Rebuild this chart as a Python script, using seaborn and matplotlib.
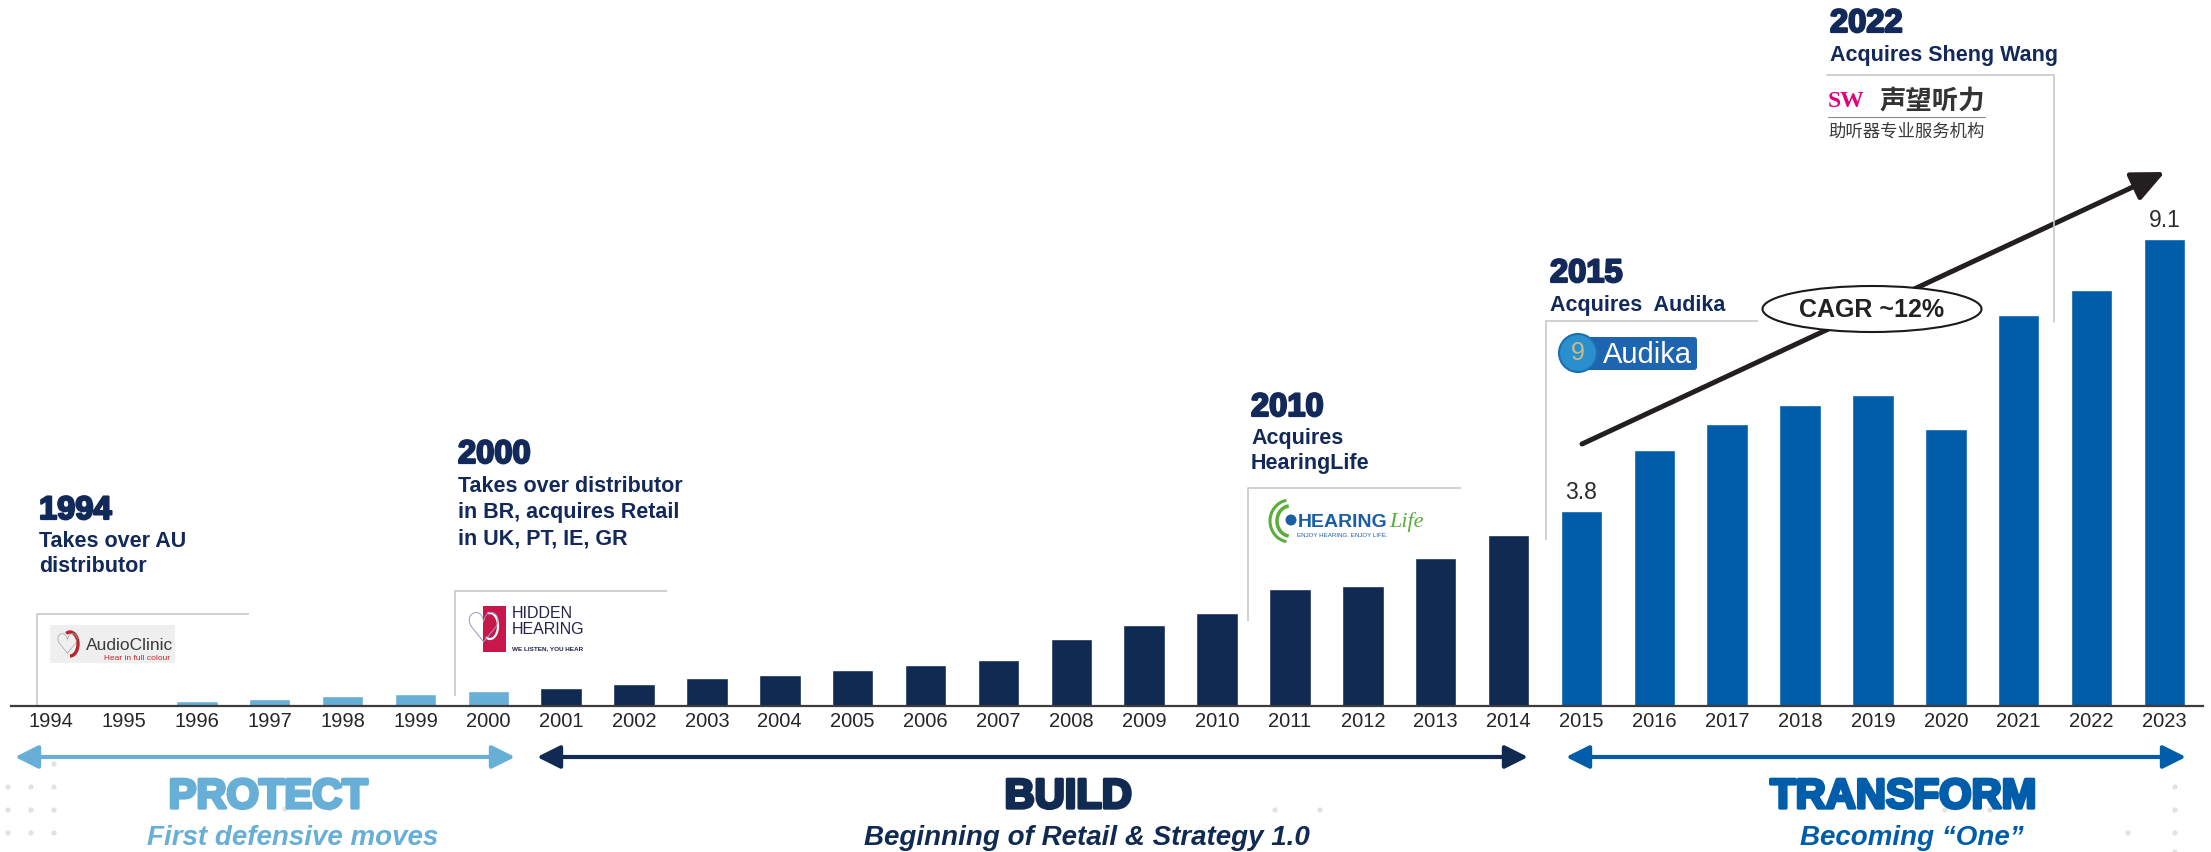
import matplotlib
matplotlib.use("Agg")
import numpy as np
import pandas as pd
import matplotlib.pyplot as plt
import seaborn as sns
from matplotlib.patches import Ellipse, FancyArrowPatch, Rectangle, FancyBboxPatch, Circle, Arc
from matplotlib import patheffects as pe

# ---------------------------------------------------------------- data
years = [str(y) for y in range(1994, 2024)]
revenue = [0.02, 0.04, 0.10, 0.14, 0.19, 0.23, 0.29,
           0.36, 0.42, 0.55, 0.60, 0.70, 0.79, 0.90, 1.30, 1.58, 1.81,
           2.28, 2.34, 2.88, 3.34,
           3.8, 4.99, 5.49, 5.86, 6.06, 5.40, 7.62, 8.10, 9.1]
phase = ["PROTECT"] * 7 + ["BUILD"] * 14 + ["TRANSFORM"] * 9
labelled_years = ["2015", "2023"]

phase_names = ["PROTECT", "BUILD", "TRANSFORM"]
phase_subtitles = ["First defensive moves", "Beginning of Retail & Strategy 1.0",
                   "Becoming \u201cOne\u201d"]
phase_colors = {"PROTECT": "#68AFD7", "BUILD": "#112A51", "TRANSFORM": "#005DA9"}

milestone_years = ["1994", "2000", "2010", "2015", "2022"]
milestone_texts = [["Takes over AU", "distributor"],
                   ["Takes over distributor", "in BR, acquires Retail", "in UK, PT, IE, GR"],
                   ["Acquires", "HearingLife"],
                   ["Acquires  Audika"],
                   ["Acquires Sheng Wang"]]
cagr_label = "CAGR ~12%"

df = pd.DataFrame({"year": years, "revenue": revenue, "phase": phase})

# ---------------------------------------------------------------- style
sns.set_theme(style="white")
plt.rcParams["font.family"] = ["Liberation Sans", "DejaVu Sans"]

W, H = 2211, 852
fig = plt.figure(figsize=(W / 100, H / 100), dpi=100)
fig.patch.set_facecolor("white")

# main bar axes: baseline at y=706 px, 72.9 px per year, 51.3 px per unit
base_px = 706
ax = fig.add_axes([11 / W, (H - base_px) / H, 2192 / W, base_px / H])
sns.barplot(data=df, x="year", y="revenue", hue="phase", order=years,
            palette=phase_colors, dodge=False, width=0.57, saturation=1,
            legend=False, ax=ax)
ax.set_xlim(-0.55, 29.53)
ax.set_ylim(0, base_px / 51.3)
ax.set_xlabel("")
ax.set_ylabel("")
ax.set_yticks([])
ax.tick_params(axis="x", length=0, pad=4, labelsize=14.5, labelcolor="#262626")
for s in ["top", "left", "right"]:
    ax.spines[s].set_visible(False)
ax.spines["bottom"].set_color("#3c3c3c")
ax.spines["bottom"].set_linewidth(1.6)
ax.patch.set_alpha(0)

for y in labelled_years:
    i = years.index(y)
    v = revenue[i]
    ax.annotate(f"{v:.1f}", xy=(i, v), xytext=(0, 8.5), textcoords="offset points",
                ha="center", va="baseline", fontsize=16.5, color="#2b2b2b")

# ---------------------------------------------------------------- overlay (pixel space)
ov = fig.add_axes([0, 0, 1, 1], zorder=-1)
ov.set_xlim(0, W)
ov.set_ylim(H, 0)
ov.axis("off")

ov2 = fig.add_axes([0, 0, 1, 1], zorder=5)
ov2.set_xlim(0, W)
ov2.set_ylim(H, 0)
ov2.axis("off")
ov2.patch.set_alpha(0)

# faint background dots
dot_pts = [(8, 787), (31, 787), (54, 787), (8, 810), (31, 810), (54, 810),
           (8, 833), (31, 833), (54, 833), (54, 764), (285, 809), (330, 809), (357, 833),
           (1275, 810), (1320, 810), (1945, 810), (1990, 810),
           (2175, 787), (2175, 810), (2175, 833), (2175, 852), (2128, 833)]
for x, y in dot_pts:
    ov.add_patch(Circle((x, y), 2.6, color="#e2e2e2", lw=0))

navy = "#12295A"
heavy = [pe.withStroke(linewidth=1.6, foreground=navy)]
grey_line = "#c8c8c8"

# milestone headings and descriptions
heads = [(39, 519, [547, 572]),
         (458, 463, [492, 518, 544]),
         (1251, 416, [444, 469]),
         (1550, 282, [311]),
         (1830, 32, [61])]
for (x, yb, lines), yr, txt in zip(heads, milestone_years, milestone_texts):
    ov2.text(x, yb, yr, fontsize=23.5, fontweight="bold", color=navy,
             va="baseline", ha="left", path_effects=heavy)
    for ly, t in zip(lines, txt):
        ov2.text(x, ly, t, fontsize=15.5, fontweight="bold", color=navy,
                 va="baseline", ha="left")

# logo frames (brackets)
brackets = [(37, 614, 705, 249), (455, 591, 696, 667), (1248, 488, 621, 1461),
            (1546, 321, 540, 1758)]
for x, yt, yb, xr in brackets:
    ov2.plot([x, x, xr], [yb, yt, yt], color=grey_line, lw=1.2, solid_capstyle="butt")
ov2.plot([1827, 2054, 2054], [75, 75, 322], color=grey_line, lw=1.2)

# --- AudioClinic logo
ov2.add_patch(Rectangle((50, 625), 125, 38, color="#eeefee", lw=0))
ov2.text(67, 646, "\u2661", fontsize=20, color="#a0a0a0", ha="center", va="center",
         family="DejaVu Sans")
ov2.add_patch(Arc((70, 644), 16, 24, theta1=-110, theta2=90, color="#b5262e", lw=2.4))
ov2.text(86, 650, "AudioClinic", fontsize=12.5, color="#3a3a3a", ha="left", va="baseline")
ov2.text(104, 660, "Hear in full colour", fontsize=6, color="#c1272d", ha="left", va="baseline")

# --- Hidden Hearing logo
ov2.text(483, 630, "\u2661", fontsize=30, color="#9a9cc9", ha="center", va="center",
         family="DejaVu Sans")
ov2.add_patch(Rectangle((483, 606), 23, 46, color="#c8174a", lw=0))
ov2.add_patch(Arc((490, 626), 16, 26, theta1=-100, theta2=110, color="white", lw=1.6))
ov2.text(512, 618, "HIDDEN", fontsize=11.5, color="#22244a", ha="left", va="baseline")
ov2.text(512, 634, "HEARING", fontsize=11.5, color="#22244a", ha="left", va="baseline")
ov2.text(512, 650, "WE LISTEN, YOU HEAR", fontsize=4.6, fontweight="bold", color="#22244a",
         ha="left", va="baseline")

# --- HearingLife logo
ov2.add_patch(Arc((1290, 521), 26, 30, theta1=95, theta2=265, color="#5bae3c", lw=2.6))
ov2.add_patch(Arc((1290, 521), 40, 42, theta1=100, theta2=260, color="#5bae3c", lw=2.2))
ov2.add_patch(Circle((1291, 520), 5.5, color="#1b5ea6", lw=0))
ov2.text(1298, 527, "HEARING", fontsize=14, fontweight="bold", color="#1b5ea6",
         ha="left", va="baseline")
ov2.text(1389, 527, "Life", fontsize=16, style="italic", color="#5aae3c",
         ha="left", va="baseline", family="Liberation Serif")
ov2.text(1297, 537, "ENJOY HEARING. ENJOY LIFE.", fontsize=4.4, color="#1b5ea6",
         ha="left", va="baseline")

# --- Audika logo
ov2.add_patch(FancyBboxPatch((1580, 337), 117, 33, boxstyle="round,pad=0,rounding_size=3",
                             color="#1f64ae", lw=0))
ov2.add_patch(Circle((1578, 353), 19, facecolor="#2a8fcd", edgecolor="#1a6fb3", lw=1.5))
ov2.text(1578, 353, "9", fontsize=18, color="#c9b98a", ha="center", va="center")
ov2.text(1603, 363, "Audika", fontsize=21, color="white", ha="left", va="baseline")

# --- Sheng Wang logo
ov2.text(1828, 107, "SW", fontsize=17, fontweight="bold", color="#e5007e",
         ha="left", va="baseline", family="Liberation Serif")
ov2.text(1880, 109, "声望听力", fontsize=19, fontweight="bold", color="#333333",
         ha="left", va="baseline", family=["Noto Sans CJK SC", "DejaVu Sans"])
ov2.plot([1828, 1985], [117, 117], color="#8a8a8a", lw=0.8)
ov2.text(1828, 137, "助听器专业服务机构", fontsize=12.5, color="#3a3a3a",
         ha="left", va="baseline", family=["Noto Sans CJK SC", "DejaVu Sans"])

# --- CAGR trend arrow with ellipse label
ov2.add_patch(FancyArrowPatch((1582, 444), (2165, 172),
                              arrowstyle="-|>,head_length=1.1,head_width=0.5",
                              mutation_scale=18, lw=3.6, color="#231f20",
                              shrinkA=0, shrinkB=0))
ov2.add_patch(Ellipse((1872, 309), 219, 46, facecolor="white", edgecolor="#1a1a1a", lw=1.5))
ov2.text(1872, 310, cagr_label, fontsize=18, fontweight="bold", color="#222222",
         ha="center", va="center")

# --- phase arrows and labels
arrow_spans = [(15, 515), (537, 1528), (1566, 2186)]
title_x = [268, 1068, 1903]
sub_x = [293, 1087, 1912]
for (x0, x1), name, sub, tx, sx in zip(arrow_spans, phase_names, phase_subtitles, title_x, sub_x):
    c = phase_colors[name]
    ov2.add_patch(FancyArrowPatch((x0, 757), (x1, 757),
                                  arrowstyle="<|-|>,head_length=0.7,head_width=0.35",
                                  mutation_scale=20, lw=3, color=c, shrinkA=0, shrinkB=0))
    ov2.text(tx, 808, name, fontsize=30, fontweight="bold", color=c,
             ha="center", va="baseline",
             path_effects=[pe.withStroke(linewidth=2.4, foreground=c)])
    ov2.text(sx, 845, sub, fontsize=20, fontweight="bold", style="italic", color=c,
             ha="center", va="baseline")

fig.savefig("out.png", dpi=100, facecolor="white")
